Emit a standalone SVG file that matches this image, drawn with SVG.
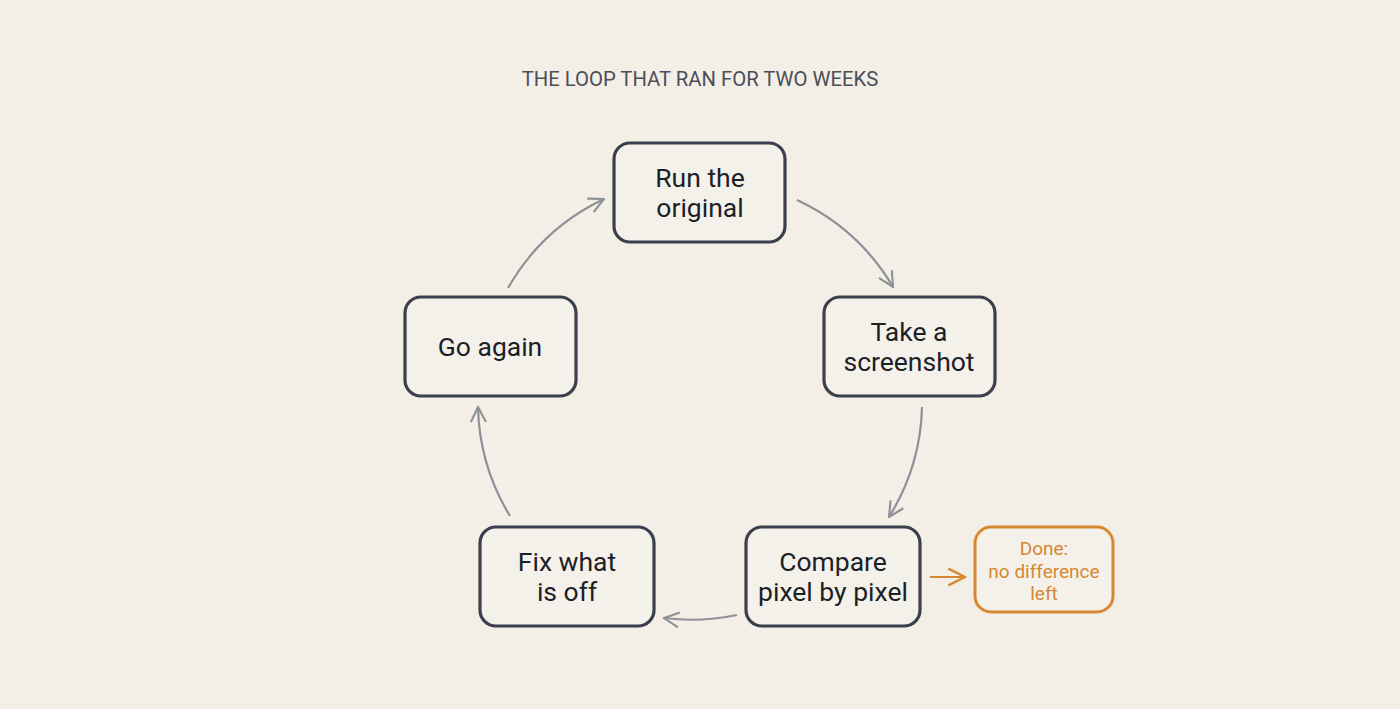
<svg xmlns="http://www.w3.org/2000/svg" width="1400" height="709" viewBox="0 0 1400 709">
<style>
.bg{fill:#f3efe7}
.node rect{fill:#f4f1ea;stroke:#3a3f4b;stroke-width:3.2}
.node text{font-family:Roboto,"Liberation Sans",sans-serif;font-size:26.5px;fill:#1c1f26;text-anchor:middle}
.done rect{fill:#f4f1ea;stroke:#d7872f;stroke-width:3}
.done text{font-family:Roboto,"Liberation Sans",sans-serif;font-size:19px;fill:#d7872f;text-anchor:middle}
.title{font-family:Roboto,"Liberation Sans",sans-serif;font-size:20.3px;fill:#4a4e58;text-anchor:middle}
.conn path{fill:none;stroke:#8d9097;stroke-width:2.2}
.conn path.or{stroke:#d7872f}
</style>
<defs>
<marker id="ah" viewBox="0 0 12 12" refX="11" refY="6" markerWidth="18" markerHeight="18" markerUnits="userSpaceOnUse" orient="auto">
<path d="M1,1 L11,6 L1,11" fill="none" stroke="#8d9097" stroke-width="1.4"/>
</marker>
<marker id="aho" viewBox="0 0 12 12" refX="11" refY="6" markerWidth="20" markerHeight="20" markerUnits="userSpaceOnUse" orient="auto">
<path d="M1,1 L11,6 L1,11" fill="none" stroke="#d7872f" stroke-width="1.4"/>
</marker>
</defs>
<rect class="bg" x="0" y="0" width="1400" height="709"/>
<text class="title" x="700" y="86">THE LOOP THAT RAN FOR TWO WEEKS</text>
<g class="conn" id="connectors">
<path d="M797,200 A218,218 0 0 1 893,287" marker-end="url(#ah)"/>
<path d="M922,407 A218,218 0 0 1 889,517" marker-end="url(#ah)"/>
<path d="M737,615 A222,222 0 0 1 664,618" marker-end="url(#ah)"/>
<path d="M510,516 A218,218 0 0 1 478,407" marker-end="url(#ah)"/>
<path d="M508,288 A218,218 0 0 1 604,199" marker-end="url(#ah)"/>
<path class="or" d="M930,577 L965,577" marker-end="url(#aho)"/>
</g>
<g class="node" id="run">
<rect x="614" y="143" width="171" height="99" rx="16"/>
<text x="700" y="187">Run the</text>
<text x="700" y="217">original</text>
</g>
<g class="node" id="take">
<rect x="824" y="297" width="171" height="99" rx="16"/>
<text x="909" y="341">Take a</text>
<text x="909" y="371">screenshot</text>
</g>
<g class="node" id="compare">
<rect x="746" y="527" width="174" height="99" rx="16"/>
<text x="833" y="571">Compare</text>
<text x="833" y="601">pixel by pixel</text>
</g>
<g class="node" id="fix">
<rect x="480" y="527" width="174" height="99" rx="16"/>
<text x="567" y="571">Fix what</text>
<text x="567" y="601">is off</text>
</g>
<g class="node" id="goagain">
<rect x="405" y="297" width="171" height="99" rx="16"/>
<text x="490" y="356">Go again</text>
</g>
<g class="done" id="done">
<rect x="975" y="527" width="138" height="85" rx="16"/>
<text x="1044" y="555">Done:</text>
<text x="1044" y="578">no difference</text>
<text x="1044" y="600">left</text>
</g>
</svg>
